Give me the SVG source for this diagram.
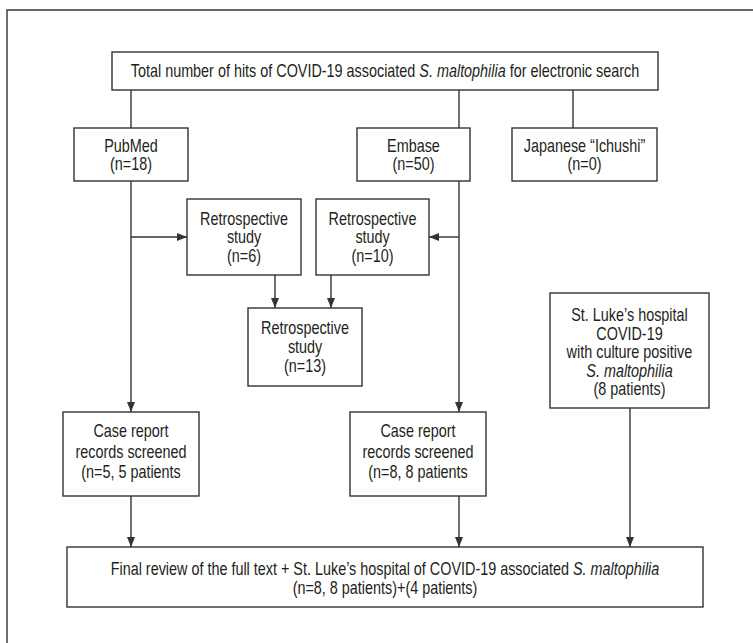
<svg xmlns="http://www.w3.org/2000/svg" width="753" height="643" viewBox="0 0 753 643">
<style>
.box{fill:#fff;stroke:#333;stroke-width:1.4}
.ln{fill:none;stroke:#333;stroke-width:1.4}
text{font-family:"Liberation Sans",Arial,sans-serif;font-size:18px;fill:#231f20;text-anchor:middle;transform-box:fill-box;transform-origin:center;transform:scaleX(0.8)}
.it{font-style:italic}
</style>
<defs>
<marker id="ah" markerUnits="userSpaceOnUse" markerWidth="10" markerHeight="10" viewBox="0 0 10 10" refX="10" refY="5" orient="auto">
<path d="M0,1 L10,5 L0,9 Z" fill="#333"/>
</marker>
</defs>
<rect width="753" height="643" fill="#fff"/>
<path class="ln" d="M7,643 V10 H753"/>
<g id="connectors">
<path class="ln" d="M131,90 V128"/>
<path class="ln" d="M459,90 V128"/>
<path class="ln" d="M573,90 V128"/>
<path class="ln" d="M131,181 V412" marker-end="url(#ah)"/>
<path class="ln" d="M131,237 H187" marker-end="url(#ah)"/>
<path class="ln" d="M459,181 V412" marker-end="url(#ah)"/>
<path class="ln" d="M459,237 H429" marker-end="url(#ah)"/>
<path class="ln" d="M275,275 V308" marker-end="url(#ah)"/>
<path class="ln" d="M331,275 V308" marker-end="url(#ah)"/>
<path class="ln" d="M131,496 V547" marker-end="url(#ah)"/>
<path class="ln" d="M459,496 V547" marker-end="url(#ah)"/>
<path class="ln" d="M630,408 V547" marker-end="url(#ah)"/>
</g>
<g id="total">
<rect class="box" x="112" y="52" width="546" height="38"/>
<text x="385" y="77.5">Total number of hits of COVID-19 associated <tspan class="it">S. maltophilia</tspan> for electronic search</text>
</g>
<g id="pubmed">
<rect class="box" x="74" y="128" width="114" height="53"/>
<text x="131" y="152">PubMed</text>
<text x="131" y="170.5">(n=18)</text>
</g>
<g id="embase">
<rect class="box" x="357" y="128" width="113" height="53"/>
<text x="413.5" y="152">Embase</text>
<text x="413.5" y="170.5">(n=50)</text>
</g>
<g id="ichushi">
<rect class="box" x="512" y="128" width="145" height="53"/>
<text x="584.5" y="152">Japanese “Ichushi”</text>
<text x="584.5" y="170.5">(n=0)</text>
</g>
<g id="retro1">
<rect class="box" x="187" y="199" width="114" height="76"/>
<text x="244" y="225">Retrospective</text>
<text x="244" y="243.5">study</text>
<text x="244" y="262">(n=6)</text>
</g>
<g id="retro2">
<rect class="box" x="316" y="199" width="113" height="76"/>
<text x="372.5" y="225">Retrospective</text>
<text x="372.5" y="243.5">study</text>
<text x="372.5" y="262">(n=10)</text>
</g>
<g id="retro3">
<rect class="box" x="248" y="308" width="114" height="78"/>
<text x="305" y="334.5">Retrospective</text>
<text x="305" y="353.5">study</text>
<text x="305" y="372.5">(n=13)</text>
</g>
<g id="case1">
<rect class="box" x="63" y="412" width="136" height="84"/>
<text x="131" y="437.5">Case report</text>
<text x="131" y="458">records screened</text>
<text x="131" y="478.5">(n=5, 5 patients</text>
</g>
<g id="case2">
<rect class="box" x="350" y="412" width="136" height="84"/>
<text x="418" y="437.5">Case report</text>
<text x="418" y="458">records screened</text>
<text x="418" y="478.5">(n=8, 8 patients</text>
</g>
<g id="stluke">
<rect class="box" x="550" y="293" width="159" height="115"/>
<text x="629.5" y="321.5">St. Luke’s hospital</text>
<text x="629.5" y="340">COVID-19</text>
<text x="629.5" y="358.5">with culture positive</text>
<text x="629.5" y="377" class="it">S. maltophilia</text>
<text x="629.5" y="395.5">(8 patients)</text>
</g>
<g id="final">
<rect class="box" x="67" y="547" width="636" height="60"/>
<text x="385" y="575.5">Final review of the full text + St. Luke’s hospital of COVID-19 associated <tspan class="it">S. maltophilia</tspan></text>
<text x="385" y="594.5">(n=8, 8 patients)+(4 patients)</text>
</g>
</svg>
